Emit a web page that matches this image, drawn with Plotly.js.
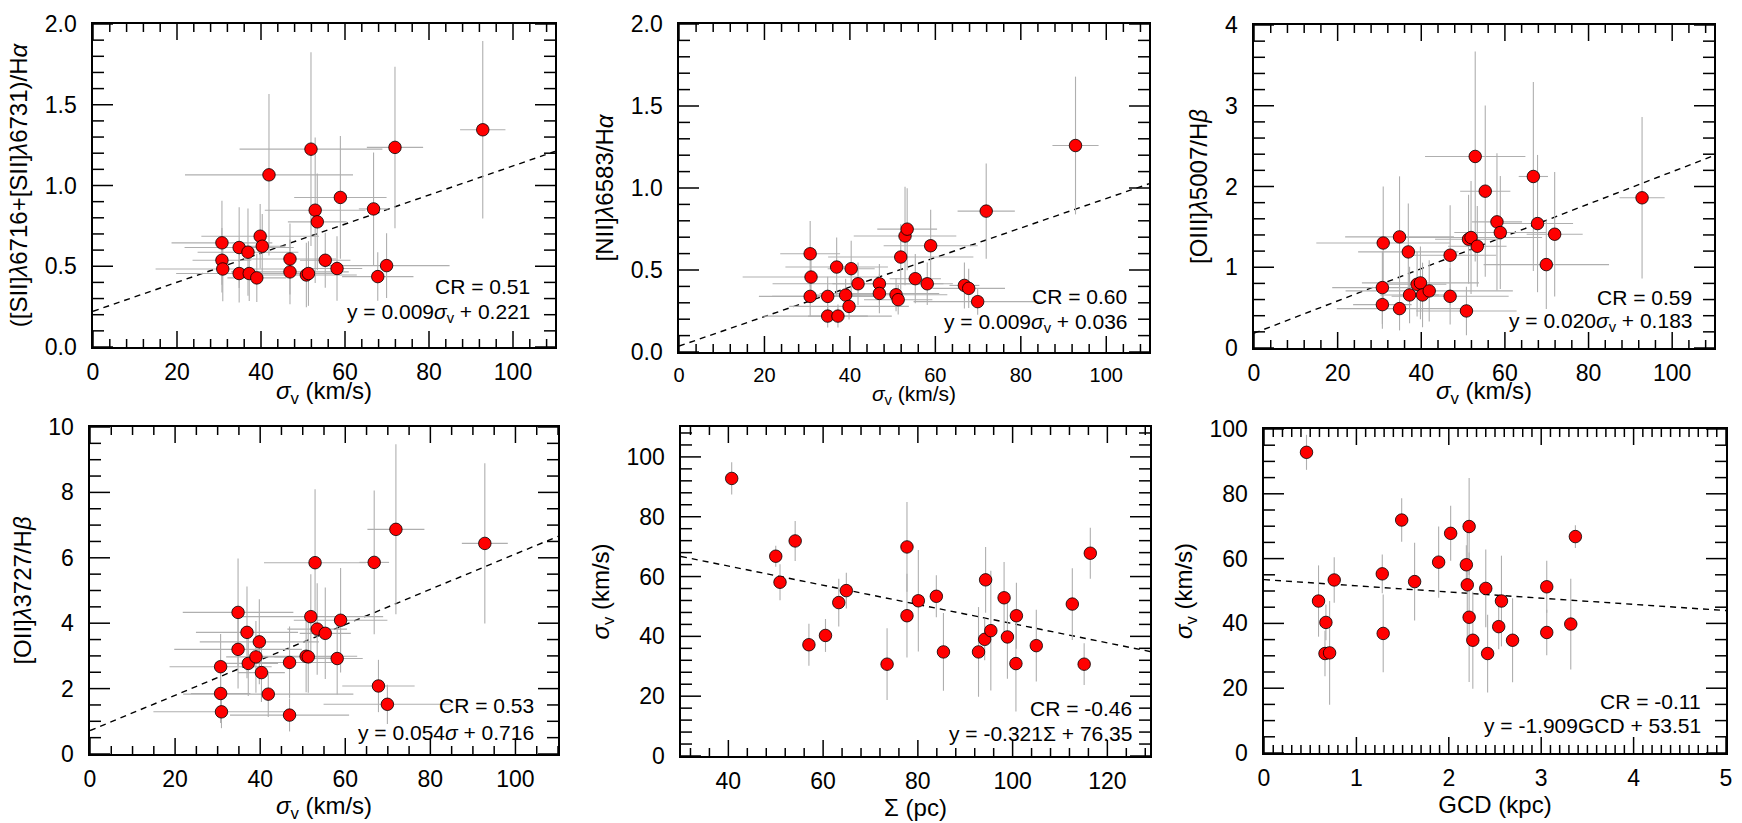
<!DOCTYPE html>
<html><head><meta charset="utf-8">
<script src="https://cdn.plot.ly/plotly-3.0.1.min.js"></script>
<style>html,body{margin:0;padding:0;background:#fff}#wrap{position:relative;width:1742px;height:823px;overflow:hidden;background:#fff}.pl{position:absolute}</style>
</head><body><div id="wrap"></div>
<script>
// ---- data (one entry per region, same order in every array) ----
const sigma    = [30.7, 30.9, 30.7, 34.8, 34.8, 36.9, 37.2, 39.0, 39.8, 40.3, 41.9, 46.9, 46.9, 50.8, 51.3, 51.9, 52.9, 53.4, 55.3, 58.1, 58.9, 66.8, 67.8, 69.9, 71.9, 92.8];
const sigmaErr = [7, 16, 12, 15, 13, 12, 7, 7, 14, 5.5, 20, 11, 14, 12, 8, 17, 12, 7, 6, 6, 11, 3.5, 8.5, 15, 6.7, 5.4];
const sizePc   = [115.1, 100.7, 73.5, 92.8, 85.4, 105.0, 57.0, 94.1, 98.9, 60.5, 95.4, 100.8, 77.7, 112.6, 63.3, 80.1, 98.2, 83.9, 64.9, 50.9, 94.3, 50.0, 116.4, 77.7, 54.1, 40.7];
const gcdKpc   = [0.66, 0.71, 2.42, 2.26, 2.69, 1.29, 3.06, 2.54, 3.32, 0.67, 2.22, 0.59, 2.57, 2.40, 3.06, 2.20, 1.63, 0.76, 1.28, 2.19, 1.89, 3.37, 2.02, 2.22, 1.49, 0.46];
const s2Ha     = [0.537, 0.483, 0.645, 0.455, 0.616, 0.587, 0.455, 0.428, 0.686, 0.624, 1.066, 0.545, 0.465, 0.446, 0.455, 1.225, 0.847, 0.775, 0.537, 0.486, 0.926, 0.855, 0.436, 0.504, 1.236, 1.345];
const s2HaErr  = [0.2, 0.2, 0.26, 0.18, 0.25, 0.27, 0.17, 0.15, 0.2, 0.2, 0.5, 0.22, 0.2, 0.2, 0.2, 0.6, 0.45, 0.3, 0.17, 0.2, 0.38, 0.35, 0.15, 0.2, 0.5, 0.55];
const n2Ha     = [0.599, 0.457, 0.339, 0.219, 0.339, 0.518, 0.219, 0.347, 0.278, 0.508, 0.416, 0.416, 0.357, 0.349, 0.319, 0.579, 0.707, 0.749, 0.447, 0.416, 0.648, 0.406, 0.388, 0.307, 0.859, 1.259];
const n2HaErr  = [0.2, 0.15, 0.12, 0.07, 0.12, 0.18, 0.07, 0.1, 0.08, 0.17, 0.13, 0.12, 0.12, 0.1, 0.09, 0.2, 0.3, 0.25, 0.15, 0.13, 0.22, 0.14, 0.12, 0.08, 0.29, 0.42];
const o3Hb     = [0.537, 1.30, 0.748, 0.488, 1.376, 1.19, 0.657, 0.789, 0.806, 0.657, 0.707, 1.149, 0.64, 0.459, 1.347, 1.368, 2.372, 1.26, 1.942, 1.562, 1.43, 2.124, 1.541, 1.033, 1.409, 1.86];
const o3HbErr  = [0.3, 0.7, 0.45, 0.27, 0.75, 0.6, 0.35, 0.4, 0.45, 0.4, 0.38, 0.62, 0.35, 0.3, 0.55, 0.7, 1.3, 0.5, 1.06, 0.85, 0.7, 1.17, 0.85, 0.55, 0.77, 1.0];
const o2Hb     = [1.85, 1.29, 2.67, 3.20, 4.33, 3.72, 2.77, 2.97, 3.43, 2.49, 1.83, 2.80, 1.19, 2.99, 2.97, 4.20, 5.85, 3.82, 3.69, 2.92, 4.09, 5.86, 2.08, 1.52, 6.87, 6.44];
const o2HbErr  = [0.9, 0.5, 1.0, 1.2, 1.65, 1.4, 1.0, 1.1, 1.3, 0.9, 0.7, 1.1, 0.5, 1.1, 1.1, 1.3, 2.25, 1.4, 1.4, 1.1, 1.6, 2.2, 0.8, 0.6, 2.6, 2.45];

// linear fits and correlation coefficients shown in each panel
const fitSlope     = [0.009, 0.009, 0.020, 0.054, -0.321, -1.909];
const fitIntercept = [0.221, 0.036, 0.183, 0.716, 76.35, 53.51];
const crText  = ['CR = 0.51', 'CR = 0.60', 'CR = 0.59', 'CR = 0.53', 'CR = -0.46', 'CR = -0.11'];
const eqText  = ['y = 0.009<i>σ</i><sub>v</sub> + 0.221', 'y = 0.009<i>σ</i><sub>v</sub> + 0.036',
                 'y = 0.020<i>σ</i><sub>v</sub> + 0.183', 'y = 0.054<i>σ</i> + 0.716',
                 'y = -0.321Σ + 76.35', 'y = -1.909GCD + 53.51'];

const SIG = '<i>σ</i><sub>v</sub> (km/s)';
const FONT = '"Liberation Sans", Arial, Helvetica, sans-serif';

// box = page region of each panel's own plot: [left, top, width, height]; dom = plot frame [x0, x1, y0, y1] in page px
const panels = [
  {x: sigma, xe: sigmaErr, y: s2Ha, ye: s2HaErr, xr: [0,110], yr: [0,2], xd: 20, xm: 4, yd: 0.5, ym: 0.1, yf: '.1f',
   xt: SIG, yt: '([SII]<i>λ</i>6716+[SII]<i>λ</i>6731)/H<i>α</i>',
   box: [0,0,585,408], dom: [93,555,24,347], xfs: 23, ann: [23,61,34]},
  {x: sigma, xe: sigmaErr, y: n2Ha, ye: n2HaErr, xr: [0,110], yr: [0,2], xd: 20, xm: 4, yd: 0.5, ym: 0.1, yf: '.1f',
   xt: SIG, yt: '[NII]<i>λ</i>6583/H<i>α</i>',
   box: [585,0,581,408], dom: [679,1149,24,352], xfs: 20, ann: [20,56,29]},
  {x: sigma, xe: sigmaErr, y: o3Hb, ye: o3HbErr, xr: [0,110], yr: [0,4], xd: 20, xm: 4, yd: 1, ym: 0.2, yf: 'd',
   xt: SIG, yt: '[OIII]<i>λ</i>5007/H<i>β</i>',
   box: [1166,0,576,408], dom: [1254,1714,25,348], xfs: 23, ann: [20,51,26]},
  {x: sigma, xe: sigmaErr, y: o2Hb, ye: o2HbErr, xr: [0,110], yr: [0,10], xd: 20, xm: 5, yd: 2, ym: 0.5, yf: 'd',
   xt: SIG, yt: '[OII]<i>λ</i>3727/H<i>β</i>',
   box: [0,408,585,415], dom: [90,558,427,754], xfs: 23, ann: [22,49,22]},
  {x: sizePc, xe: null, y: sigma, ye: sigmaErr, xr: [30,129], yr: [0,110], xd: 20, xm: 4, yd: 20, ym: 4, yf: 'd',
   xt: 'Σ (pc)', yt: SIG,
   box: [585,408,581,415], dom: [681,1150,427,756], xfs: 23, ann: [16,48,23]},
  {x: gcdKpc, xe: null, y: sigma, ye: sigmaErr, xr: [0,5], yr: [0,100], xd: 1, xm: 0.1, yd: 20, ym: 5, yf: 'd',
   xt: 'GCD (kpc)', yt: SIG,
   box: [1166,408,576,415], dom: [1264,1726,429,753], xfs: 23, ann: [23,52,28]}
];

const ERR = 'rgb(175,175,175)';
const TICK = {xMajor: 16, xMinor: 8, yMajor: 20, yMinor: 11};
const wrap = document.getElementById('wrap');

// frame tick marks on all four sides, built from each axis' range and tick spacing
function tickTrace(p) {
  const pw = p.dom[1] - p.dom[0], ph = p.dom[3] - p.dom[2];
  const [x0, x1] = p.xr, [y0, y1] = p.yr;
  const ux = (x1 - x0) / pw, uy = (y1 - y0) / ph;
  const xs = [], ys = [];
  const isMajor = (v, d) => Math.abs(v / d - Math.round(v / d)) < 1e-6;
  for (let k = Math.ceil(x0 / p.xm - 1e-9); k * p.xm <= x1 + 1e-9; k++) {
    const v = +(k * p.xm).toFixed(6);
    const L = (isMajor(v, p.xd) ? TICK.xMajor : TICK.xMinor) * uy;
    xs.push(v, v, null, v, v, null);
    ys.push(y0, y0 + L, null, y1, y1 - L, null);
  }
  for (let k = Math.ceil(y0 / p.ym - 1e-9); k * p.ym <= y1 + 1e-9; k++) {
    const v = +(k * p.ym).toFixed(6);
    const L = (isMajor(v, p.yd) ? TICK.yMajor : TICK.yMinor) * ux;
    xs.push(x0, x0 + L, null, x1, x1 - L, null);
    ys.push(v, v, null, v, v, null);
  }
  return {x: xs, y: ys, mode: 'lines', type: 'scatter', connectgaps: false,
    line: {color: '#000', width: 1.5}, cliponaxis: false};
}

panels.forEach((p, i) => {
  const [bl, bt, bw, bh] = p.box;
  const div = document.createElement('div');
  div.className = 'pl';
  div.style.left = bl + 'px'; div.style.top = bt + 'px';
  div.style.width = bw + 'px'; div.style.height = bh + 'px';
  wrap.appendChild(div);

  // dashed fit line across the x range
  const lx = p.xr.slice();
  const ly = lx.map(v => fitSlope[i] * v + fitIntercept[i]);
  const lineTr = {x: lx, y: ly, mode: 'lines', type: 'scatter',
    line: {color: '#000', width: 1.4, dash: '6px,5px'}};
  const tr = {x: p.x, y: p.y, mode: 'markers', type: 'scatter',
    marker: {size: 12.5, color: '#ff0000', line: {color: '#000', width: 0.8}},
    error_y: {type: 'data', array: p.ye, visible: true, color: ERR, thickness: 1.1, width: 0}};
  if (p.xe) tr.error_x = {type: 'data', array: p.xe, visible: true, color: ERR, thickness: 1.1, width: 0};

  const base = () => ({ticks: '', showline: true, linecolor: '#000', linewidth: 1.6, mirror: true,
    showgrid: false, zeroline: false, fixedrange: true});
  const layout = {
    width: bw, height: bh,
    margin: {l: p.dom[0] - bl, r: bl + bw - p.dom[1], t: p.dom[2] - bt, b: bt + bh - p.dom[3], pad: 0},
    showlegend: false,
    font: {family: FONT, size: 20, color: '#000'},
    xaxis: Object.assign(base(), {
      range: p.xr, anchor: 'y',
      tickmode: 'linear', tick0: 0, dtick: p.xd, tickfont: {family: FONT, size: p.xfs, color: '#000'},
      ticklabelstandoff: 4,
      title: {text: p.xt, font: {family: FONT, size: p.xfs + 1, color: '#000'}, standoff: 6}
    }),
    yaxis: Object.assign(base(), {
      range: p.yr, anchor: 'x',
      tickmode: 'linear', tick0: 0, dtick: p.yd, tickformat: p.yf, tickfont: {family: FONT, size: 23, color: '#000'},
      ticklabelstandoff: 10,
      title: {text: p.yt, font: {family: FONT, size: 24, color: '#000'}, standoff: 10}
    }),
    annotations: [
      {xref: 'x domain', yref: 'y domain', x: 1, y: 0, xanchor: 'right', yanchor: 'middle',
       xshift: -p.ann[0], yshift: p.ann[1], showarrow: false, text: crText[i], font: {family: FONT, size: 21, color: '#000'}},
      {xref: 'x domain', yref: 'y domain', x: 1, y: 0, xanchor: 'right', yanchor: 'middle',
       xshift: -p.ann[0], yshift: p.ann[2], showarrow: false, text: eqText[i], font: {family: FONT, size: 21, color: '#000'}}
    ]
  };
  Plotly.newPlot(div, [lineTr, tickTrace(p), tr], layout, {displayModeBar: false, staticPlot: true});
});
</script>
</body></html>
